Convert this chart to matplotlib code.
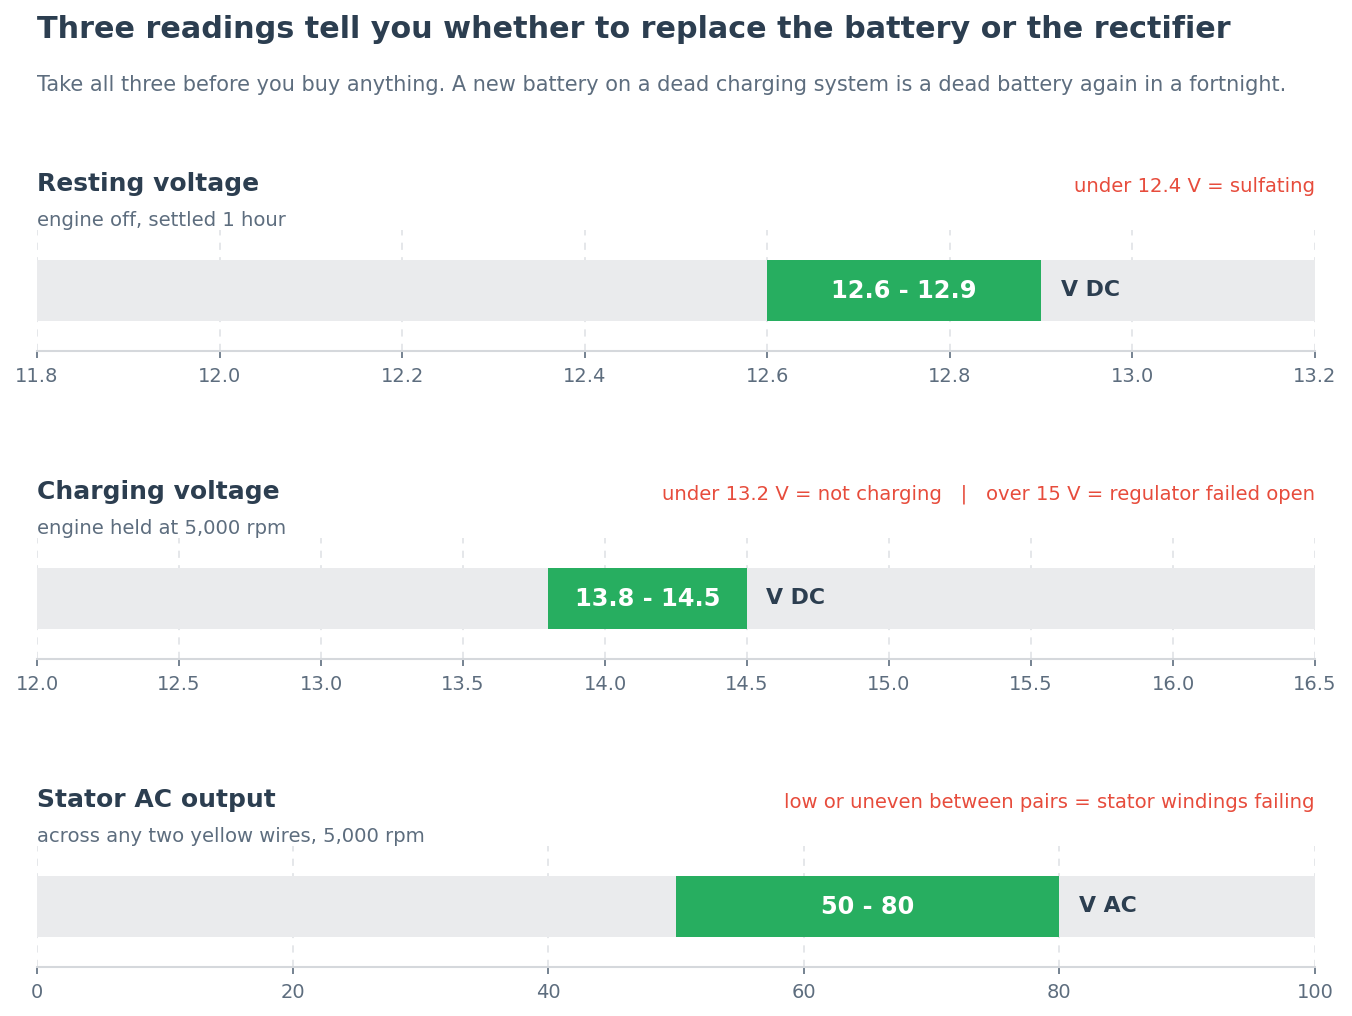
import matplotlib
matplotlib.use('Agg')
from matplotlib import pyplot as plt

# Panel content
titles = ['Resting voltage', 'Charging voltage', 'Stator AC output']
subtitles = ['engine off, settled 1 hour',
             'engine held at 5,000 rpm',
             'across any two yellow wires, 5,000 rpm']
notes = ['under 12.4 V = sulfating',
         'under 13.2 V = not charging   |   over 15 V = regulator failed open',
         'low or uneven between pairs = stator windings failing']
range_low = [12.6, 13.8, 50]
range_high = [12.9, 14.5, 80]
range_labels = ['12.6 - 12.9', '13.8 - 14.5', '50 - 80']
units = ['V DC', 'V DC', 'V AC']
axis_min = [11.8, 12.0, 0]
axis_max = [13.2, 16.5, 100]
tick_values = [[11.8, 12.0, 12.2, 12.4, 12.6, 12.8, 13.0, 13.2],
               [12.0, 12.5, 13.0, 13.5, 14.0, 14.5, 15.0, 15.5, 16.0, 16.5],
               [0, 20, 40, 60, 80, 100]]
tick_labels = [['11.8', '12.0', '12.2', '12.4', '12.6', '12.8', '13.0', '13.2'],
               ['12.0', '12.5', '13.0', '13.5', '14.0', '14.5', '15.0', '15.5', '16.0', '16.5'],
               ['0', '20', '40', '60', '80', '100']]

DARK = '#2c3e50'
MUTED = '#5d6d7e'
RED = '#e74c3c'
GREEN = '#27ae60'
TRACK = '#eaebed'

W, H = 1352, 1016
fig = plt.figure(figsize=(W / 100, H / 100), dpi=100)
fig.patch.set_facecolor('white')


def fy(px):
    return 1 - px / H


left = 37 / W
width = (1315 - 37) / W

fig.text(left, fy(29), 'Three readings tell you whether to replace the battery or the rectifier',
         fontsize=21.8, fontweight='bold', color=DARK, va='center', ha='left')
fig.text(left, fy(85), 'Take all three before you buy anything. A new battery on a dead charging '
         'system is a dead battery again in a fortnight.',
         fontsize=15.05, color=MUTED, va='center', ha='left')

offset = 308
for i in range(3):
    top = 230 + i * offset
    bottom = 351 + i * offset
    ax = fig.add_axes([left, fy(bottom), width, (bottom - top) / H])

    lo, hi = axis_min[i], axis_max[i]
    ax.barh(0, hi - lo, left=lo, height=1.02, color=TRACK, zorder=1)
    ax.barh(0, range_high[i] - range_low[i], left=range_low[i], height=1.02,
            color=GREEN, zorder=2)
    ax.text((range_low[i] + range_high[i]) / 2, 0, range_labels[i], color='white',
            fontsize=17.3, fontweight='bold', ha='center', va='center', zorder=3)
    ax.annotate(units[i], xy=(range_high[i], 0), xytext=(14, 0), textcoords='offset points',
                color=DARK, fontsize=15.8, fontweight='bold', ha='left', va='center', zorder=3)

    ax.set_xlim(lo, hi)
    ax.set_ylim(-1, 1)
    ax.set_yticks([])
    ax.set_xticks(tick_values[i], tick_labels[i])
    ax.tick_params(axis='x', colors=MUTED, labelsize=14, length=5, width=1.2, pad=6.5)
    ax.grid(axis='x', color='#e3e5e8', linestyle=(0, (4, 4)), linewidth=1.3, zorder=0)
    ax.set_axisbelow(True)
    for s in ['top', 'left', 'right']:
        ax.spines[s].set_visible(False)
    ax.spines['bottom'].set_color('#d5d8dc')
    ax.spines['bottom'].set_linewidth(1.5)

    fig.text(left, fy(184 + i * offset), titles[i], fontsize=18, fontweight='bold',
             color=DARK, va='center', ha='left')
    fig.text(left, fy(220 + i * offset), subtitles[i], fontsize=14.1,
             color=MUTED, va='center', ha='left')
    fig.text(left + width, fy(186 + i * offset), notes[i], fontsize=14.1,
             color=RED, va='center', ha='right')

fig.savefig('out.png', dpi=100, facecolor='white')
